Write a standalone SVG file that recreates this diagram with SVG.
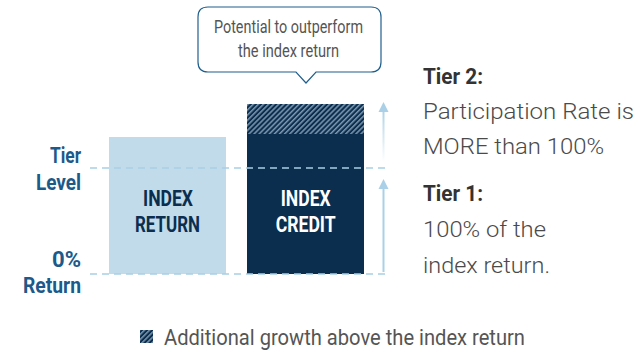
<svg xmlns="http://www.w3.org/2000/svg" width="640" height="353" viewBox="0 0 640 353">
  <defs>
    <pattern id="hatch" width="3.6" height="3.6" patternUnits="userSpaceOnUse" patternTransform="rotate(45)">
      <rect width="3.6" height="3.6" fill="#0b2e4f"/>
      <rect width="1.5" height="3.6" fill="#7d98b0"/>
    </pattern>
    <linearGradient id="fadeUp" x1="0" y1="1" x2="0" y2="0">
      <stop offset="0" stop-color="#a9d0e6" stop-opacity="0"/>
      <stop offset="1" stop-color="#a9d0e6" stop-opacity="1"/>
    </linearGradient>
    <style>
      text { font-family: Roboto, "Liberation Sans", sans-serif; }
      .axis { font-weight: bold; font-size: 22px; fill: #1b5a8a; }
      .bar { font-weight: bold; font-size: 22px; }
      .head { font-weight: bold; font-size: 22px; fill: #333; }
      .body { font-weight: 300; font-size: 21.5px; fill: #4a4a4a; }
      .note { font-size: 17.5px; fill: #555; }
      .dash { stroke: #a9d0e6; stroke-width: 1.5; stroke-dasharray: 7 5; fill: none; }
    </style>
  </defs>

  <!-- callout bubble -->
  <g id="callout">
    <path d="M208,7 H371 Q381,7 381,17 V62 Q381,72 371,72 H316 L306,83 L296,72 H208 Q198,72 198,62 V17 Q198,7 208,7 Z" fill="#fff" stroke="#1f5f8e" stroke-width="1.2"/>
    <text class="note" x="214" y="33.3" textLength="149" lengthAdjust="spacingAndGlyphs">Potential to outperform</text>
    <text class="note" x="238" y="57.3" textLength="101" lengthAdjust="spacingAndGlyphs">the index return</text>
  </g>

  <!-- bars -->
  <g id="index-return">
    <rect x="109" y="137" width="117" height="137" fill="#c1dbeb"/>
    <text class="bar" x="143" y="206" fill="#0b2e4f" textLength="50" lengthAdjust="spacingAndGlyphs">INDEX</text>
    <text class="bar" x="135" y="231.7" fill="#0b2e4f" textLength="65" lengthAdjust="spacingAndGlyphs">RETURN</text>
  </g>
  <g id="index-credit">
    <rect x="247" y="104" width="117" height="170" fill="#0b2e4f"/>
    <rect x="247" y="104" width="117" height="30" fill="url(#hatch)"/>
    <text class="bar" x="280.7" y="205.5" fill="#fff" textLength="50" lengthAdjust="spacingAndGlyphs">INDEX</text>
    <text class="bar" x="275.7" y="231.7" fill="#fff" textLength="60" lengthAdjust="spacingAndGlyphs">CREDIT</text>
  </g>

  <!-- axis labels -->
  <g id="tier-level">
    <text class="axis" x="50" y="163" textLength="31" lengthAdjust="spacingAndGlyphs">Tier</text>
    <text class="axis" x="36" y="190" textLength="45" lengthAdjust="spacingAndGlyphs">Level</text>
  </g>
  <g id="zero-return">
    <text class="axis" x="52" y="267" textLength="29" lengthAdjust="spacingAndGlyphs">0%</text>
    <text class="axis" x="23" y="293" textLength="58" lengthAdjust="spacingAndGlyphs">Return</text>
  </g>

  <!-- reference lines and tier arrows -->
  <g id="connectors">
    <line class="dash" x1="90" y1="168" x2="388" y2="168"/>
    <line class="dash" x1="90" y1="274" x2="388" y2="274"/>
    <rect x="382.5" y="108" width="2" height="54" fill="url(#fadeUp)"/>
    <path d="M378.5,112 L383.5,102 L388.5,112 Z" fill="#a9d0e6"/>
    <line x1="383.5" y1="272" x2="383.5" y2="186" stroke="#a9d0e6" stroke-width="2"/>
    <path d="M378.5,189 L383.5,179 L388.5,189 Z" fill="#a9d0e6"/>
  </g>

  <!-- tier descriptions -->
  <g id="tier-2">
    <text class="head" x="423" y="84" textLength="60" lengthAdjust="spacingAndGlyphs">Tier 2:</text>
    <text class="body" x="423" y="119.3" textLength="211" lengthAdjust="spacingAndGlyphs">Participation Rate is</text>
    <text class="body" x="423" y="154" textLength="181" lengthAdjust="spacingAndGlyphs">MORE than 100%</text>
  </g>
  <g id="tier-1">
    <text class="head" x="423" y="201" textLength="60" lengthAdjust="spacingAndGlyphs">Tier 1:</text>
    <text class="body" x="423" y="236.7" textLength="123" lengthAdjust="spacingAndGlyphs">100% of the</text>
    <text class="body" x="423" y="273" textLength="127" lengthAdjust="spacingAndGlyphs">index return.</text>
  </g>

  <!-- legend -->
  <g id="legend">
    <rect x="140" y="330" width="13" height="13" fill="url(#hatch)"/>
    <text x="164" y="345" font-size="22" fill="#555" textLength="361" lengthAdjust="spacingAndGlyphs">Additional growth above the index return</text>
  </g>
</svg>
